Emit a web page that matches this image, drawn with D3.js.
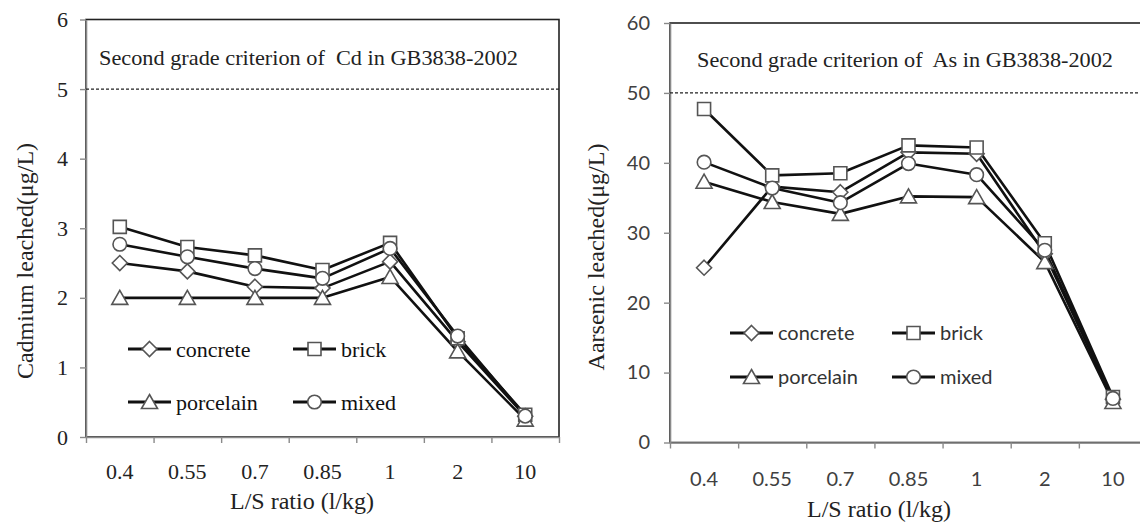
<!DOCTYPE html>
<meta charset="utf-8">
<head>
<style>
  body { margin: 0; background: #fff; }
</style>
<script src="https://d3js.org/d3.v7.min.js"></script>
</head>
<body>
<div id="vis"></div>
<script>
// L/S ratio categories (x axis)
var categories = ["0.4", "0.55", "0.7", "0.85", "1", "2", "10"];
var seriesNames = ["concrete", "brick", "porcelain", "mixed"];
var seriesMarkers = ["diamond", "square", "triangle", "circle"];

// Cadmium leached (ug/L)
var cdConcrete  = [2.50, 2.38, 2.16, 2.14, 2.52, 1.37, 0.30];
var cdBrick     = [3.02, 2.73, 2.61, 2.40, 2.79, 1.42, 0.32];
var cdPorcelain = [2.00, 2.00, 2.00, 2.00, 2.30, 1.23, 0.25];
var cdMixed     = [2.77, 2.59, 2.42, 2.28, 2.71, 1.45, 0.30];
var cdTicks = [0, 1, 2, 3, 4, 5, 6];
var cdLimit = 5;

// Arsenic leached (ug/L)
var asConcrete  = [25.0, 36.6, 35.8, 41.5, 41.3, 27.0, 6.2];
var asBrick     = [47.7, 38.2, 38.5, 42.5, 42.2, 28.5, 6.5];
var asPorcelain = [37.3, 34.4, 32.7, 35.2, 35.1, 25.8, 5.8];
var asMixed     = [40.1, 36.4, 34.3, 39.9, 38.3, 27.5, 6.3];
var asTicks = [0, 10, 20, 30, 40, 50, 60];
var asLimit = 50;

var SERIF = "'Liberation Serif', 'Times New Roman', serif";
var SANS = "Lato, 'Open Sans', sans-serif";

var width = 1140, height = 524;
var svg = d3.select("#vis").append("svg")
    .attr("width", width)
    .attr("height", height);

function markerPath(type) {
  if (type == "diamond") return "M0,-7.5L7.5,0L0,7.5L-7.5,0Z";
  if (type == "square") return "M-6.5,-6.5h13v13h-13Z";
  if (type == "triangle") return "M0,-7.5L8,6.5L-8,6.5Z";
  return d3.symbol().type(d3.symbolCircle).size(Math.PI * 6.8 * 6.8)();
}

function drawPanel(p) {
  var g = svg.append("g");
  var x = d3.scaleBand().domain(categories).range([p.left, p.right]);
  var xt = d3.scaleLinear().domain([0, categories.length]).range([p.left, p.right]);
  var y = d3.scaleLinear().domain([0, d3.max(p.ticks)]).range([p.bottom, p.top]);
  var cx = function(c) { return x(c) + x.bandwidth() / 2; };

  // plot area border (top/right dark)
  g.append("rect")
    .attr("x", p.left).attr("y", p.top)
    .attr("width", p.right - p.left).attr("height", p.bottom - p.top)
    .attr("fill", "none").attr("stroke", "#222").attr("stroke-width", 1.6);

  // y axis
  var ya = g.append("g")
    .attr("transform", "translate(" + p.left + ",0)")
    .call(d3.axisLeft(y).tickValues(p.ticks).tickFormat(d3.format("d"))
      .tickSize(6).tickSizeOuter(0).tickPadding(p.yPad))
    .attr("font-family", p.tickFont)
    .attr("font-size", p.tickSize);
  ya.select(".domain").attr("stroke", "#8a8a8a").attr("stroke-width", 1.6);
  ya.selectAll(".tick line").attr("stroke", "#8a8a8a").attr("stroke-width", 1.4);
  ya.selectAll(".tick text").attr("fill", p.tickColor);

  // x axis: ticks between categories
  var xa = g.append("g")
    .attr("transform", "translate(0," + p.bottom + ")")
    .call(d3.axisBottom(xt).ticks(categories.length).tickSize(6).tickSizeOuter(0).tickFormat(""));
  xa.select(".domain").attr("stroke", "#8a8a8a").attr("stroke-width", 1.6);
  xa.selectAll(".tick line").attr("stroke", "#8a8a8a").attr("stroke-width", 1.4);

  g.selectAll(".xlab").data(categories).enter().append("text")
    .attr("x", cx)
    .attr("y", p.bottom + p.xlabOffset)
    .attr("text-anchor", "middle")
    .attr("font-family", p.tickFont)
    .attr("font-size", p.tickSize)
    .attr("fill", p.tickColor)
    .text(function(d) { return d; });

  // criterion line
  g.append("line")
    .attr("x1", p.left).attr("x2", p.right)
    .attr("y1", y(p.limit)).attr("y2", y(p.limit))
    .attr("stroke", "#222").attr("stroke-width", 1.4)
    .attr("stroke-dasharray", "3,2");

  g.append("text")
    .attr("x", p.noteX).attr("y", p.noteY)
    .attr("font-family", SERIF)
    .attr("font-size", 22)
    .attr("textLength", p.noteLen)
    .attr("lengthAdjust", "spacingAndGlyphs")
    .attr("fill", "#222")
    .style("white-space", "pre")
    .text(p.note);

  // series lines
  var line = d3.line()
    .x(function(d, i) { return cx(categories[i]); })
    .y(function(d) { return y(d); });

  p.series.forEach(function(s) {
    g.append("path")
      .datum(s)
      .attr("d", line)
      .attr("fill", "none")
      .attr("stroke", "#111")
      .attr("stroke-width", 2.6)
      .attr("stroke-linejoin", "round");
  });
  p.series.forEach(function(s, k) {
    g.selectAll(".m" + k).data(s).enter().append("path")
      .attr("d", markerPath(seriesMarkers[k]))
      .attr("transform", function(d, i) { return "translate(" + cx(categories[i]) + "," + y(d) + ")"; })
      .attr("fill", "#fff")
      .attr("stroke", "#555")
      .attr("stroke-width", 1.6);
  });

  // legend
  seriesNames.forEach(function(name, k) {
    var lx = p.legX[k % 2], ly = p.legY[Math.floor(k / 2)];
    g.append("line")
      .attr("x1", lx).attr("x2", lx + 43)
      .attr("y1", ly).attr("y2", ly)
      .attr("stroke", "#111").attr("stroke-width", 3);
    g.append("path")
      .attr("d", markerPath(seriesMarkers[k]))
      .attr("transform", "translate(" + (lx + 21.5) + "," + ly + ")")
      .attr("fill", "#fff").attr("stroke", "#555").attr("stroke-width", 1.6);
    g.append("text")
      .attr("x", lx + 48).attr("y", ly)
      .attr("dy", "0.35em")
      .attr("font-family", p.legFont)
      .attr("font-size", p.legSize)
      .attr("fill", p.legColor)
      .text(name);
  });

  // axis titles
  g.append("text")
    .attr("x", p.xTitleX).attr("y", p.xTitleY)
    .attr("text-anchor", "middle")
    .attr("font-family", SERIF)
    .attr("font-size", 24)
    .attr("fill", "#222")
    .text("L/S ratio (l/kg)");
  g.append("text")
    .attr("transform", "translate(" + p.yTitleX + "," + p.yTitleY + ") rotate(-90)")
    .attr("text-anchor", "middle")
    .attr("dy", "0.35em")
    .attr("font-family", SERIF)
    .attr("font-size", 24)
    .attr("fill", "#222")
    .text(p.yTitle);
}

drawPanel({
  left: 86, right: 559, top: 19.5, bottom: 437,
  ticks: cdTicks, limit: cdLimit,
  series: [cdConcrete, cdBrick, cdPorcelain, cdMixed],
  tickFont: SERIF, tickSize: 22, tickColor: "#222", xlabOffset: 42, yPad: 12,
  note: "Second grade criterion of  Cd in GB3838-2002", noteX: 99, noteY: 65, noteLen: 419,
  legX: [128, 293], legY: [349, 402], legFont: SERIF, legSize: 22, legColor: "#111",
  xTitleX: 302, xTitleY: 509,
  yTitle: "Cadmium leached(\u03bcg/L)", yTitleX: 25, yTitleY: 261
});

drawPanel({
  left: 670, right: 1147, top: 23, bottom: 442.5,
  ticks: asTicks, limit: asLimit,
  series: [asConcrete, asBrick, asPorcelain, asMixed],
  tickFont: SANS, tickSize: 20, tickColor: "#404040", xlabOffset: 43, yPad: 14,
  note: "Second grade criterion of  As in GB3838-2002", noteX: 697, noteY: 67, noteLen: 416,
  legX: [730, 892], legY: [333, 377], legFont: SANS, legSize: 20, legColor: "#333",
  xTitleX: 879, xTitleY: 517,
  yTitle: "Aarsenic leached(\u03bcg/L)", yTitleX: 596, yTitleY: 257
});
</script>
</body>
